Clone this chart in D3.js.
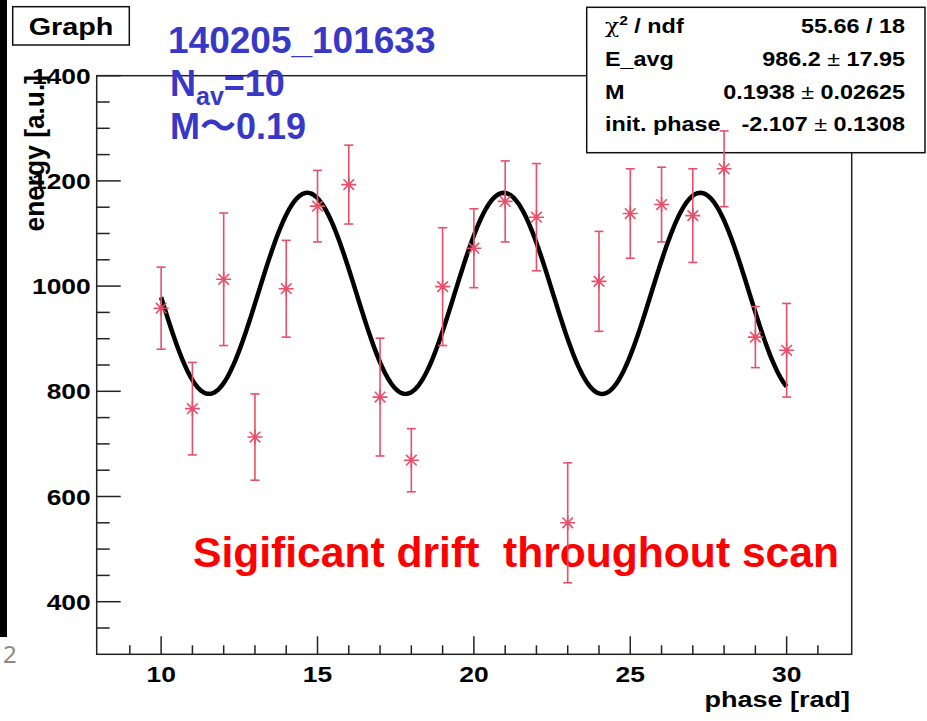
<!DOCTYPE html>
<html><head><meta charset="utf-8">
<script src="https://cdn.jsdelivr.net/npm/d3@7"></script>
<style>html,body{margin:0;padding:0;background:#fff;overflow:hidden}</style>
</head><body><svg id="c" width="927" height="721"></svg>
<script>
// ---- data ----
const phase = [10,11,12,13,14,15,16,17,18,19,20,21,22,23,24,25,26,27,28,29,30];
const energy = [958,767,1013,713,995,1152,1193,789,669,999,1072,1161,1131,550,1009,1138,1155,1134,1223,903,878];
const energyErr = [78,88,126,82,92,68,75,112,60,112,75,77,102,114,95,85,71,89,72,58,89];
const xMajorTicks = [10,15,20,25,30];
const xMinorTicks = [9,11,12,13,14,16,17,18,19,21,22,23,24,26,27,28,29,31];
const yMajorTicks = [400,600,800,1000,1200,1400];
const yMinorTicks = [350,450,500,550,650,700,750,850,900,950,1050,1100,1150,1250,1300,1350];
const statLabels = ["χ", "E_avg", "M", "init. phase"];
const statValA = ["55.66 / 18", "986.2", "0.1938", "-2.107"];
const statValB = ["", "17.95", "0.02625", "0.1308"];
// fit parameters shown in the stats box: E = E_avg*(1 + M*cos(phase + init.phase))
const fitEavg = 986.2, fitM = 0.1938, fitPhase = -2.107, fitRange = [10, 30];

const svg = d3.select("#c");
const F = "'Liberation Sans', Arial, Helvetica, sans-serif";
const frame = {l: 96.7, r: 851.7, t: 75.7, b: 654.3};
const x = d3.scaleLinear().domain([7.94, 32.08]).range([frame.l, frame.r]);
const y = d3.scaleLinear().domain([300, 1400]).range([frame.b, frame.t]);

function txt(str, px, py, o) {
  o = o || {};
  return svg.append("text")
    .attr("transform", `translate(${px},${py}) ${o.rot ? "rotate(" + o.rot + ")" : ""} scale(${o.sx || 1},${o.sy || 1})`)
    .attr("text-anchor", o.anchor || "start")
    .attr("font-family", o.family || F)
    .attr("font-weight", o.weight || "bold")
    .attr("font-size", o.size || 20)
    .attr("fill", o.fill || "#000")
    .text(str);
}

// left black strip and cut slide number
svg.append("rect").attr("x", 0).attr("y", 0).attr("width", 7).attr("height", 637).attr("fill", "#000");
txt("2", 3, 663, {size: 24, weight: "normal", fill: "#8a8a8a", family: "'Noto Sans', sans-serif"});

// title box
svg.append("rect").attr("x", 12.7).attr("y", 6.7).attr("width", 116.6).attr("height", 38.3)
  .attr("fill", "#fff").attr("stroke", "#111").attr("stroke-width", 1.5);
txt("Graph", 71, 34.5, {size: 23, sx: 1.25, anchor: "middle"});

// frame
svg.append("rect").attr("x", frame.l).attr("y", frame.t).attr("width", frame.r - frame.l).attr("height", frame.b - frame.t)
  .attr("fill", "none").attr("stroke", "#222").attr("stroke-width", 1.5);

const axG = svg.append("g").attr("stroke", "#222").attr("stroke-width", 1.5);
xMajorTicks.forEach(v => axG.append("line").attr("x1", x(v)).attr("x2", x(v)).attr("y1", frame.b).attr("y2", frame.b - 18));
xMinorTicks.forEach(v => axG.append("line").attr("x1", x(v)).attr("x2", x(v)).attr("y1", frame.b).attr("y2", frame.b - 9));
yMajorTicks.forEach(v => axG.append("line").attr("y1", y(v)).attr("y2", y(v)).attr("x1", frame.l).attr("x2", frame.l + 24));
yMinorTicks.forEach(v => axG.append("line").attr("y1", y(v)).attr("y2", y(v)).attr("x1", frame.l).attr("x2", frame.l + 13));

xMajorTicks.forEach(v => txt(String(v), x(v), 681.5, {size: 22, sx: 1.2, anchor: "middle"}));
yMajorTicks.forEach(v => txt(String(v), 90.7, y(v) + 8, {size: 22, sx: 1.2, anchor: "end"}));

txt("phase [rad]", 850, 707, {size: 22.5, sx: 1.2, anchor: "end"});
txt("energy [a.u.]", 44, 75, {size: 22.5, rot: -90, sx: 1.17, sy: 1.2, anchor: "end"});

// stats box
svg.append("rect").attr("x", 586.7).attr("y", 7.3).attr("width", 338.3).attr("height", 145.4)
  .attr("fill", "#fff").attr("stroke", "#111").attr("stroke-width", 1.5);
const rowY = [33, 66, 99, 131];
statLabels.forEach((s, i) => {
  const t = txt(i === 0 ? "" : s, 605, rowY[i], {size: 19.5, sx: 1.2});
  if (i === 0) {
    t.append("tspan").attr("font-weight", "normal").attr("font-family", "'DejaVu Serif', serif").text("χ");
    t.append("tspan").attr("font-size", 13).attr("dy", -8).text("2");
    t.append("tspan").attr("dy", 8).text(" / ndf");
  }
});
statValA.forEach((s, i) => {
  const t = txt("", 905, rowY[i], {size: 19.5, sx: 1.2, anchor: "end"});
  t.append("tspan").text(s);
  if (statValB[i]) {
    t.append("tspan").attr("font-weight", "normal").text(" ± ");
    t.append("tspan").text(statValB[i]);
  }
});

// overlay annotations
const blue = "#3838c8";
txt("140205_101633", 168, 53, {size: 37, fill: blue});
const nav = txt("N", 170, 96, {size: 36, fill: blue});
nav.append("tspan").attr("font-size", 25).attr("dy", 9).text("av");
nav.append("tspan").attr("dy", -9).text("=10");
const mt = txt("M", 170, 139, {size: 36, fill: blue});
mt.append("tspan").attr("font-family", "'Noto Sans CJK JP', sans-serif").attr("font-weight", "bold").text("～");
mt.append("tspan").text("0.19");
txt("Sigificant drift  throughout scan", 193, 567, {size: 42.6, fill: "#ff0000"}).attr("xml:space", "preserve").style("white-space", "pre");

// fit curve
const xs = d3.range(0, 401).map(i => fitRange[0] + (fitRange[1] - fitRange[0]) * i / 400);
svg.append("path")
  .attr("d", d3.line().x(d => x(d)).y(d => y(fitEavg * (1 + fitM * Math.cos(d + fitPhase))))(xs))
  .attr("fill", "none").attr("stroke", "#000").attr("stroke-width", 4.5).attr("stroke-linejoin", "round");

// data points with error bars and asterisk markers
const red = "#e8506a";
const pts = svg.append("g").attr("stroke", red).attr("stroke-width", 1.6).attr("fill", "none");
phase.forEach((p, i) => {
  const cx = x(p), cy = y(energy[i]);
  const y1 = y(energy[i] + energyErr[i]), y2 = y(energy[i] - energyErr[i]);
  pts.append("line").attr("x1", cx).attr("x2", cx).attr("y1", y1).attr("y2", y2);
  pts.append("line").attr("x1", cx - 4.5).attr("x2", cx + 4.5).attr("y1", y1).attr("y2", y1);
  pts.append("line").attr("x1", cx - 4.5).attr("x2", cx + 4.5).attr("y1", y2).attr("y2", y2);
  const r = 7.5, d = 5.3;
  pts.append("path").attr("d", `M${cx - r},${cy}H${cx + r}M${cx},${cy - r}V${cy + r}M${cx - d},${cy - d}L${cx + d},${cy + d}M${cx - d},${cy + d}L${cx + d},${cy - d}`);
  pts.append("circle").attr("cx", cx).attr("cy", cy).attr("r", 2).attr("fill", red).attr("stroke", "none");
});
</script></body></html>
